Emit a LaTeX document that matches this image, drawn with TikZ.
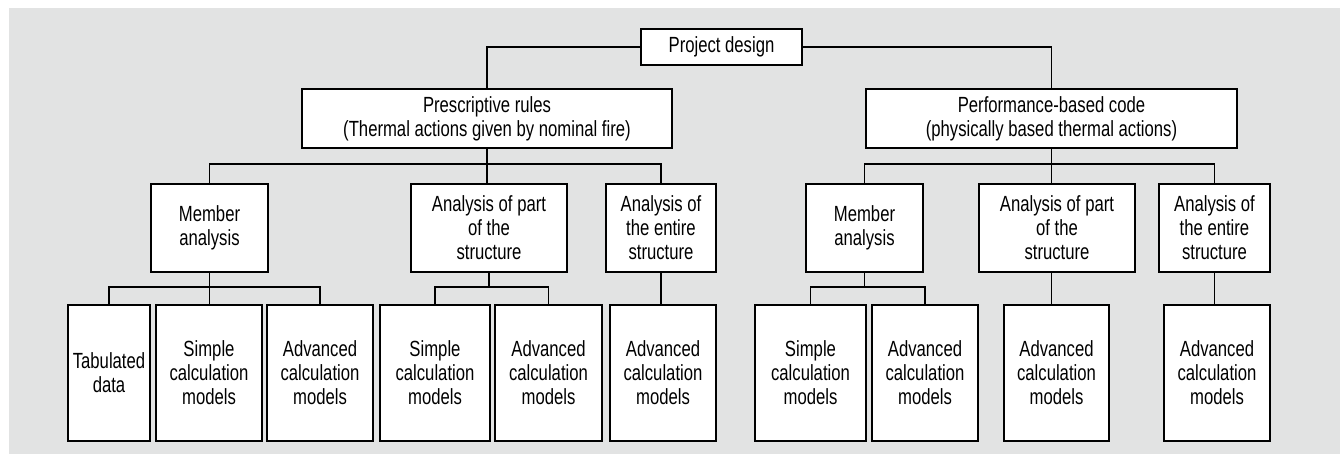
\documentclass[tikz,border=0pt]{standalone}
\usepackage{fontspec}
\setmainfont{Liberation Sans}[FakeStretch=0.76]
\definecolor{panelgray}{RGB}{226,227,227}

\begin{document}
\begin{tikzpicture}[x=0.02cm, y=-0.02cm, line width=0.7pt,
    box/.style={draw, fill=white, align=center, inner sep=0pt,
        font=\fontsize{12.5}{13.6}\selectfont},
    topbox/.style={box, minimum height=1.18cm},
    midbox/.style={box, minimum height=1.76cm},
    leafbox/.style={box, minimum height=2.72cm}]
    \useasboundingbox (0,0) rectangle (1340,454);
    \fill[panelgray] (9,8) rectangle (1340,454);
    \coordinate (bus2) at (0,164);
    \coordinate (bus3) at (0,287);

    \node (proj) [box, minimum width=3.22cm, minimum height=0.72cm] at (721.5,47) {Project design};

    \node (pres) [topbox, minimum width=7.4cm] at (487,118.5) {Prescriptive rules\\(Thermal actions given by nominal fire)};
    \node (perf) [topbox, minimum width=7.42cm] at (1051.5,118.5) {Performance-based code\\(physically based thermal actions)};

    \node (mem1) [midbox, minimum width=2.34cm] at (209.5,228) {Member\\analysis};
    \node (part1) [midbox, minimum width=3.12cm] at (489,228) {Analysis of part\\of the\\structure};
    \node (ent1) [midbox, minimum width=2.2cm] at (661,228) {Analysis of\\the entire\\structure};
    \node (mem2) [midbox, minimum width=2.34cm] at (864.5,228) {Member\\analysis};
    \node (part2) [midbox, minimum width=3.12cm] at (1057,228) {Analysis of part\\of the\\structure};
    \node (ent2) [midbox, minimum width=2.22cm] at (1214.5,228) {Analysis of\\the entire\\structure};

    \node (tab) [leafbox, minimum width=1.64cm] at (109,373) {Tabulated\\data};
    \node (sim1) [leafbox, minimum width=2.12cm] at (209,373) {Simple\\calculation\\models};
    \node (adv1) [leafbox, minimum width=2.12cm] at (320,373) {Advanced\\calculation\\models};
    \node (sim2) [leafbox, minimum width=2.2cm] at (435,373) {Simple\\calculation\\models};
    \node (adv2) [leafbox, minimum width=2.14cm] at (548.5,373) {Advanced\\calculation\\models};
    \node (adv3) [leafbox, minimum width=2.12cm] at (663,373) {Advanced\\calculation\\models};
    \node (sim3) [leafbox, minimum width=2.22cm] at (810.5,373) {Simple\\calculation\\models};
    \node (adv4) [leafbox, minimum width=2.12cm] at (925,373) {Advanced\\calculation\\models};
    \node (adv5) [leafbox, minimum width=2.1cm] at (1056.5,373) {Advanced\\calculation\\models};
    \node (adv6) [leafbox, minimum width=2.12cm] at (1217,373) {Advanced\\calculation\\models};

    \draw (proj.west) -| (pres.north);
    \draw (proj.east) -| (perf.north);

    \draw (pres.south) -- (pres.south |- part1.north);
    \draw (mem1.north) |- (ent1.north |- bus2) -- (ent1.north);
    \draw (perf.south) -- (perf.south |- part2.north);
    \draw (mem2.north) |- (ent2.north |- bus2) -- (ent2.north);

    \draw (mem1.south) -- (mem1.south |- sim1.north);
    \draw (tab.north) |- (adv1.north |- bus3) -- (adv1.north);
    \draw (part1.south) -- (part1.south |- bus3);
    \draw (sim2.north) |- (adv2.north |- bus3) -- (adv2.north);
    \draw (ent1.south) -- (ent1.south |- adv3.north);
    \draw (mem2.south) -- (mem2.south |- bus3);
    \draw (sim3.north) |- (adv4.north |- bus3) -- (adv4.north);
    \draw (perf.south |- part2.south) -- (perf.south |- adv5.north);
    \draw (ent2.south) -- (ent2.south |- adv6.north);
  \end{tikzpicture}
\end{document}
